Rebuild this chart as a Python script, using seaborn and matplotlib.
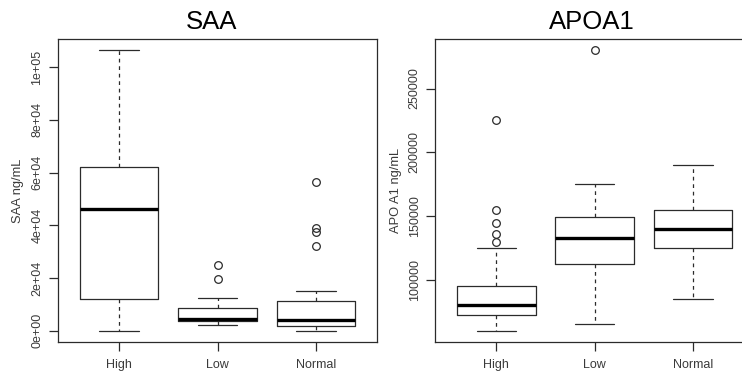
import matplotlib
matplotlib.use("Agg")
import matplotlib.pyplot as plt
import seaborn as sns

# --- DATA ---
GROUPS = ["High", "Low", "Normal"]

saa_whislo = [0, 2280, 0]
saa_q1 = [12150, 3540, 1650]
saa_med = [46300, 4560, 4180]
saa_q3 = [62000, 8600, 11280]
saa_whishi = [106450, 12270, 15080]
saa_out = [[], [24800, 19630], [56300, 39100, 37500, 32300]]
saa_ticks = [0, 20000, 40000, 60000, 80000, 100000]
saa_ticklabels = ["0e+00", "2e+04", "4e+04", "6e+04", "8e+04", "1e+05"]

apoa_whislo = [60400, 65340, 85130]
apoa_q1 = [72900, 112830, 125350]
apoa_med = [80440, 132860, 140220]
apoa_q3 = [95300, 149840, 155090]
apoa_whishi = [125350, 175430, 190530]
apoa_out = [[225200, 155100, 145150, 135760, 130000], [280000], []]
apoa_ticks = [100000, 150000, 200000, 250000]
apoa_ticklabels = ["100000", "150000", "200000", "250000"]

# --- STYLE ---
sns.set_theme(style="ticks")
plt.rcParams["font.family"] = ["Liberation Sans", "DejaVu Sans"]

LINE = "#2b2b2b"
TEXT = "#3a3a3a"


def make_stats(lo, q1, med, q3, hi, out):
    return [dict(whislo=lo[i], q1=q1[i], med=med[i], q3=q3[i], whishi=hi[i],
                 fliers=out[i], label=GROUPS[i]) for i in range(len(GROUPS))]


def draw_panel(ax, stats, title, title_x, ylabel, ticks, ticklabels):
    ax.bxp(stats, positions=range(len(stats)), widths=0.8, capwidths=0.4,
           manage_ticks=False,
           boxprops=dict(color=LINE, lw=0.9),
           medianprops=dict(color="black", lw=2.4, solid_capstyle="butt"),
           whiskerprops=dict(color=LINE, lw=0.9, linestyle=(0, (3, 3))),
           capprops=dict(color=LINE, lw=0.9),
           flierprops=dict(marker="o", mfc="none", mec=LINE, ms=5.5, mew=0.9))

    # R-style 4% padding
    vals = []
    for s in stats:
        vals += [s["whislo"], s["whishi"]] + list(s["fliers"])
    lo, hi = min(vals), max(vals)
    pad = 0.04 * (hi - lo)
    ax.set_ylim(lo - pad, hi + pad)
    ax.set_xlim(-0.62, len(stats) - 1 + 0.62)

    ax.set_xticks(range(len(stats)))
    ax.set_xticklabels(GROUPS, fontsize=9, color=TEXT)
    ax.set_yticks(ticks)
    ax.set_yticklabels(ticklabels, fontsize=9, color=TEXT, rotation=90, va="center")
    ax.tick_params(axis="both", direction="out", length=6.5, width=0.9, color=LINE)
    ax.tick_params(axis="x", pad=6)
    ax.tick_params(axis="y", pad=4)

    for sp in ax.spines.values():
        sp.set_visible(True)
        sp.set_color(LINE)
        sp.set_linewidth(0.9)
    ax.grid(False)

    ax.set_title(title, fontsize=18.5, x=title_x, pad=7, color="black")
    ax.set_ylabel(ylabel, fontsize=9.3, color=TEXT, labelpad=5)


fig = plt.figure(figsize=(7.42, 3.80), dpi=100)
fig.patch.set_facecolor("white")
ax1 = fig.add_axes([58 / 742, 38 / 380, 319 / 742, 303 / 380])
ax2 = fig.add_axes([435.3 / 742, 38 / 380, 318.5 / 742, 303 / 380])

draw_panel(ax1, make_stats(saa_whislo, saa_q1, saa_med, saa_q3, saa_whishi, saa_out),
           "SAA", 0.48, "SAA ng/mL", saa_ticks, saa_ticklabels)
draw_panel(ax2, make_stats(apoa_whislo, apoa_q1, apoa_med, apoa_q3, apoa_whishi, apoa_out),
           "APOA1", 0.492, "APO A1 ng/mL", apoa_ticks, apoa_ticklabels)

fig.savefig("out.png", dpi=100, facecolor="white")
